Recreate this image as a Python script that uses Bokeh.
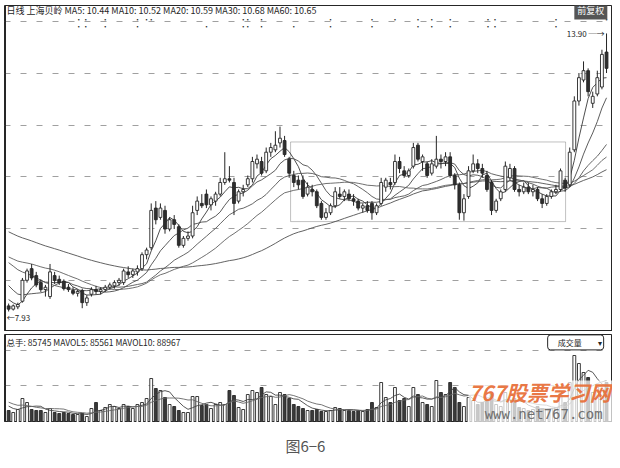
import numpy as np
import pandas as pd
from bokeh.plotting import figure
from bokeh.layouts import column
from bokeh.models import FixedTicker, Span, Label, BoxAnnotation, ColumnDataSource, Range1d
from bokeh.core.properties import value
from bokeh.embed import file_html
from bokeh.resources import INLINE

# ---------------- data ----------------
opens = [8.05, 7.98, 8.03, 8.15, 8.60, 8.85, 8.70, 8.55, 8.40, 8.25,
         8.70, 8.62, 8.58, 8.45, 8.38, 8.32, 8.38, 8.12, 8.30, 8.40,
         8.36, 8.40, 8.45, 8.48, 8.55, 8.55, 8.78, 8.72, 8.78, 8.85,
         9.15, 9.30, 10.15, 9.95, 10.10, 9.70, 9.90, 9.75, 9.35, 9.50,
         9.55, 10.10, 10.25, 10.45, 10.22, 10.30, 10.45, 10.70, 10.78, 10.70,
         10.30, 10.50, 10.65, 10.78, 11.10, 11.15, 10.95, 11.35, 11.40, 11.55,
         11.60, 11.20, 10.85, 10.75, 10.75, 10.45, 10.55, 10.50, 10.25, 9.95,
         10.05, 10.20, 10.45, 10.40, 10.45, 10.35, 10.30, 10.15, 10.20, 10.25,
         10.05, 10.25, 10.60, 10.70, 10.70, 11.15, 10.95, 10.85, 11.05, 11.50,
         11.15, 11.10, 10.90, 11.05, 11.20, 11.15, 11.25, 10.85, 10.65, 10.05,
         10.40, 10.95, 11.10, 11.00, 10.85, 10.70, 10.10, 10.35, 10.55, 10.80,
         11.00, 10.55, 10.50, 10.60, 10.50, 10.55, 10.35, 10.25, 10.40, 10.50,
         10.55, 10.75, 10.65, 11.40, 12.45, 12.90, 13.10, 12.40, 12.60, 12.75,
         13.50]
highs = [8.10, 8.08, 8.12, 8.65, 8.85, 8.95, 8.78, 8.62, 8.50, 8.95,
         8.78, 8.70, 8.62, 8.52, 8.45, 8.40, 8.42, 8.28, 8.45, 8.48,
         8.45, 8.50, 8.55, 8.60, 8.65, 8.85, 8.90, 8.85, 8.92, 9.20,
         9.30, 10.25, 10.30, 10.25, 10.20, 9.95, 10.00, 9.80, 9.55, 9.65,
         10.20, 10.40, 10.45, 10.55, 10.40, 10.50, 10.80, 11.35, 11.05, 10.80,
         10.55, 10.65, 10.85, 11.25, 11.30, 11.25, 11.45, 11.55, 11.80, 11.90,
         11.70, 11.25, 10.95, 10.85, 10.85, 10.70, 10.65, 10.55, 10.30, 10.15,
         10.25, 10.60, 10.60, 10.55, 10.55, 10.45, 10.35, 10.25, 10.30, 10.30,
         10.25, 10.80, 10.80, 10.80, 11.30, 11.25, 11.05, 11.00, 11.55, 11.55,
         11.30, 11.15, 11.20, 11.70, 11.30, 11.35, 11.35, 10.90, 10.70, 10.45,
         11.05, 11.30, 11.20, 11.10, 10.95, 10.75, 10.35, 10.55, 11.15, 11.10,
         11.05, 10.65, 10.70, 10.70, 10.65, 10.60, 10.45, 10.45, 10.55, 10.65,
         11.00, 10.80, 11.45, 12.55, 13.05, 13.30, 13.15, 12.65, 13.10, 13.55,
         13.90]
lows = [7.93, 7.95, 7.98, 8.12, 8.55, 8.60, 8.45, 8.35, 8.25, 8.20,
        8.52, 8.50, 8.38, 8.35, 8.28, 8.25, 8.00, 8.05, 8.25, 8.30,
        8.30, 8.35, 8.40, 8.42, 8.48, 8.50, 8.65, 8.65, 8.70, 8.80,
        9.05, 9.25, 9.80, 9.90, 9.60, 9.65, 9.70, 9.30, 9.30, 9.45,
        9.50, 10.00, 10.15, 10.15, 10.10, 10.20, 10.40, 10.65, 10.70, 10.00,
        10.25, 10.40, 10.60, 10.70, 11.00, 10.85, 10.90, 11.25, 11.35, 11.45,
        11.25, 10.80, 10.60, 10.55, 10.35, 10.40, 10.40, 10.15, 9.90, 9.90,
        10.00, 10.15, 10.35, 10.30, 10.30, 10.20, 10.10, 10.05, 10.05, 9.90,
        10.00, 10.20, 10.50, 10.55, 10.65, 10.90, 10.80, 10.80, 11.00, 11.15,
        10.95, 10.80, 10.85, 11.00, 11.00, 11.05, 10.80, 10.55, 9.90, 9.88,
        10.35, 10.90, 10.90, 10.80, 10.50, 10.00, 10.05, 10.30, 10.50, 10.75,
        10.50, 10.40, 10.45, 10.45, 10.40, 10.30, 10.15, 10.20, 10.35, 10.45,
        10.50, 10.50, 10.60, 11.35, 12.35, 12.85, 12.55, 12.30, 12.55, 12.70,
        13.05]
closes = [7.98, 8.05, 8.08, 8.60, 8.80, 8.65, 8.50, 8.40, 8.45, 8.78,
          8.60, 8.55, 8.42, 8.40, 8.32, 8.36, 8.12, 8.22, 8.40, 8.36,
          8.40, 8.45, 8.50, 8.55, 8.60, 8.80, 8.72, 8.80, 8.85, 9.15,
          9.25, 10.10, 9.90, 10.15, 9.70, 9.90, 9.80, 9.35, 9.50, 9.55,
          10.05, 10.30, 10.20, 10.22, 10.35, 10.45, 10.70, 10.78, 10.75, 10.25,
          10.50, 10.55, 10.78, 11.15, 11.20, 10.90, 11.35, 11.45, 11.50, 11.65,
          11.30, 10.90, 10.70, 10.65, 10.40, 10.60, 10.50, 10.20, 9.95, 10.05,
          10.20, 10.50, 10.40, 10.50, 10.35, 10.30, 10.15, 10.20, 10.10, 10.05,
          10.20, 10.70, 10.75, 10.65, 11.15, 11.00, 10.85, 10.95, 11.45, 11.20,
          11.25, 10.85, 11.10, 11.20, 11.15, 11.25, 10.85, 10.65, 10.05, 10.35,
          10.95, 11.10, 11.00, 10.90, 10.55, 10.10, 10.30, 10.50, 11.05, 11.00,
          10.55, 10.50, 10.60, 10.50, 10.55, 10.35, 10.25, 10.40, 10.50, 10.55,
          10.95, 10.58, 11.35, 12.45, 12.95, 13.10, 12.65, 12.55, 12.95, 13.45,
          13.15]
volumes = [30000, 25000, 32500, 60000, 50000, 32500, 30000, 30000, 25000, 35000,
           25000, 22500, 25000, 22500, 20000, 20000, 22500, 15000, 35000, 50000,
           30000, 37500, 45000, 40000, 35000, 45000, 40000, 35000, 45000, 50000,
           60000, 110000, 85000, 80000, 62500, 45000, 40000, 30000, 25000, 25000,
           65000, 65000, 42500, 45000, 35000, 45000, 50000, 45000, 80000, 67500,
           37500, 32500, 70000, 80000, 75000, 87500, 70000, 65000, 45000, 75000,
           70000, 60000, 45000, 40000, 35000, 30000, 30000, 32500, 27500, 27500,
           30000, 37500, 35000, 30000, 30000, 27500, 30000, 27500, 32500, 50000,
           37500, 100000, 62500, 50000, 87500, 55000, 60000, 40000, 87500, 70000,
           50000, 45000, 40000, 105000, 75000, 70000, 100000, 87500, 50000, 40000,
           62500, 55000, 45000, 50000, 55000, 70000, 45000, 40000, 75000, 55000,
           60000, 37500, 35000, 30000, 32500, 40000, 35000, 32500, 35000, 37500,
           70000, 50000, 100000, 167500, 147500, 125000, 112500, 75000, 87500, 80000,
           100000]
# closes / volumes before the first visible day (seed the moving averages)
pre_closes = [10.95, 10.88, 10.80, 10.85, 10.72, 10.65, 10.70, 10.58, 10.50, 10.55,
              10.42, 10.35, 10.40, 10.28, 10.20, 10.25, 10.12, 10.05, 10.10, 9.98,
              9.90, 9.95, 9.85, 9.78, 9.82, 9.70, 9.65, 9.72, 9.60, 9.55,
              9.50, 9.42, 9.38, 9.30, 9.35, 9.28, 9.40, 9.32, 9.25, 9.30,
              9.45, 9.55, 9.62, 9.58, 9.50, 9.45, 9.52, 9.40, 9.48, 9.42,
              9.20, 9.05, 8.90, 8.80, 8.62, 8.55, 8.40, 8.30, 8.20, 8.05]
pre_volumes = [60000, 70000, 65000, 55000, 62500, 50000, 55000, 45000, 40000, 35000]

ma_periods = [5, 10, 20, 30, 60]
grid_prices = [8.59, 9.71, 10.82, 11.93, 13.05, 14.16]
vol_grid = [92500, 180000]
upper_sig_idx = [16, 21, 28, 30, 31, 51, 52, 55, 70, 79, 84, 89, 92, 96, 105, 119, 130]
upper_sig_txt = ["••", "•", "•", "•", "•", "•", "•", "•", "•", "•", "•", "•", "•", "•", "••", "•", "•"]
lower_sig_idx = [16, 21, 28, 43, 51, 52, 55, 62, 70, 79, 89, 92, 96, 105, 119]
lower_sig_txt = ["••", "•", "•", "•", "•", "•", "•", "•", "•", "•", "•", "•", "•", "••", "•"]
box_left, box_right, box_low, box_high = 61.3, 121.1, 9.86, 11.57

header = "日线  上海贝岭 MA5: 10.44 MA10: 10.52 MA20: 10.59 MA30: 10.68 MA60: 10.65"
vol_header = "总手: 85745 MAVOL5: 85561 MAVOL10: 88967"

# ---------------- derived ----------------
n = len(closes)
idx = np.arange(n)
o = np.array(opens); c = np.array(closes); h = np.array(highs); l = np.array(lows)
up = c >= o
all_c = pd.Series(pre_closes + closes)
mas = {k: all_c.rolling(k, min_periods=1).mean().values[len(pre_closes):] for k in ma_periods}
all_v = pd.Series(pre_volumes + volumes)
mav5 = all_v.rolling(5, min_periods=1).mean().values[len(pre_volumes):]
mav10 = all_v.rolling(10, min_periods=1).mean().values[len(pre_volumes):]

INK = "#262626"
FONT = "Noto Sans CJK SC"
x_lo, x_hi = -0.9, 131.3
W = 612

src = ColumnDataSource(dict(x=idx, open=o, close=c, high=h, low=l,
                            top=np.maximum(o, c), bot=np.minimum(o, c),
                            fill=np.where(up, "white", "#2e2e2e"),
                            vol=np.array(volumes),
                            vfill=np.where(up, "white", "#3a3a3a")))

# ---------------- main price panel ----------------
p = figure(width=W, height=331, x_range=Range1d(x_lo, x_hi), y_range=Range1d(7.50, 14.50),
           output_backend="svg", toolbar_location=None,
           min_border_left=4, min_border_top=5, min_border_right=0, min_border_bottom=0,
           outline_line_color=INK, outline_line_width=1)
p.xaxis.visible = False
p.yaxis.visible = False
p.xgrid.visible = False
p.ygrid.ticker = FixedTicker(ticks=grid_prices)
p.ygrid.grid_line_color = "#a0a0a0"
p.ygrid.grid_line_dash = "6 10"
p.ygrid.grid_line_width = 1

ma_colors = ["#3a3a3a", "#4a4a4a", "#555555", "#606060", "#505050"]
for k, col in zip(ma_periods, ma_colors):
    p.line(idx, mas[k], line_color=col, line_width=0.9)

p.segment(x0="x", y0="low", x1="x", y1="high", source=src, line_color=INK, line_width=1)
p.vbar(x="x", width=0.62, top="top", bottom="bot", source=src,
       fill_color="fill", line_color=INK, line_width=0.9)

p.add_layout(BoxAnnotation(left=box_left, right=box_right, bottom=box_low, top=box_high,
                           fill_alpha=0, line_color="#333333", line_width=1))

p.add_layout(Span(location=x_lo, dimension="height", line_color=INK, line_width=3))
p.add_layout(Span(location=x_hi, dimension="height", line_color=INK, line_width=3))

# header signal dots
p.text(x=upper_sig_idx, y=[14.22] * len(upper_sig_idx), text=upper_sig_txt,
       text_font=value(FONT), text_font_size="7px", text_align="center",
       text_baseline="middle", text_color=INK)
p.text(x=lower_sig_idx, y=[14.07] * len(lower_sig_idx), text=lower_sig_txt,
       text_font=value(FONT), text_font_size="7px", text_align="center",
       text_baseline="middle", text_color=INK)

p.add_layout(Label(x=x_lo, y=14.40, text=header, text_font=FONT, text_font_size="9px",
                   text_color=INK, text_baseline="middle", x_offset=2))
p.add_layout(Label(x=123.0, y=14.50, text="前复权", text_font=FONT, text_font_size="9px",
                   text_color="white", text_baseline="top", background_fill_color="#555555",
                   padding=3, y_offset=5))

lo_i = int(np.argmin(l)); hi_i = int(np.argmax(h))
p.add_layout(Label(x=lo_i, y=l[lo_i], text="←7.93", text_font=FONT, text_font_size="8px",
                   text_color=INK, text_baseline="top", x_offset=-2, y_offset=-1))
p.add_layout(Label(x=hi_i, y=h[hi_i], text="13.90 ─→", text_font=FONT, text_font_size="8px",
                   text_color=INK, text_baseline="middle", text_align="right", x_offset=-2))

# ---------------- volume panel ----------------
pv = figure(width=W, height=91, x_range=p.x_range, y_range=Range1d(0, 220000),
            output_backend="svg", toolbar_location=None,
            min_border_left=4, min_border_top=3, min_border_right=0, min_border_bottom=0,
            outline_line_color=INK, outline_line_width=1)
pv.xaxis.visible = False
pv.yaxis.visible = False
pv.xgrid.visible = False
pv.ygrid.ticker = FixedTicker(ticks=vol_grid)
pv.ygrid.grid_line_color = "#a0a0a0"
pv.ygrid.grid_line_dash = "6 10"

pv.vbar(x="x", width=0.62, top="vol", bottom=0, source=src,
        fill_color="vfill", line_color=INK, line_width=0.9)
pv.line(idx, mav5, line_color="#444444", line_width=0.9)
pv.line(idx, mav10, line_color="#666666", line_width=0.9)

pv.add_layout(Span(location=x_lo, dimension="height", line_color=INK, line_width=3))
pv.add_layout(Span(location=x_hi, dimension="height", line_color=INK, line_width=3))

pv.add_layout(BoxAnnotation(left=100.0, right=x_hi, bottom=0, top=105000,
                            fill_color="white", fill_alpha=0.72, line_alpha=0))
pv.add_layout(Label(x=100.0, y=40000, text="767股票学习网", text_font=FONT,
                    text_font_size="21px", text_font_style="bold italic",
                    text_color="#e8703a", text_alpha=0.95))
pv.add_layout(Label(x=103.5, y=1000, text="www.net767.com", text_font="DejaVu Sans Mono",
                    text_font_size="14px", text_color="#707070"))

pv.add_layout(Label(x=x_lo, y=216000, text=vol_header, text_font=FONT, text_font_size="8.5px",
                    text_color=INK, text_baseline="top", x_offset=2))
pv.add_layout(Label(x=117.2, y=219000, text="　成交量　　▾", text_font=FONT,
                    text_font_size="8px", text_color=INK, text_baseline="top",
                    background_fill_color="white", border_line_color=INK,
                    border_line_width=1, padding=2, border_radius=3))

# ---------------- caption ----------------
pc = figure(width=W, height=36, x_range=Range1d(0, 1), y_range=Range1d(0, 1),
            output_backend="svg", toolbar_location=None, min_border=0,
            outline_line_color=None)
pc.axis.visible = False
pc.grid.visible = False
pc.add_layout(Label(x=0.495, y=0.36, text="图6−6", text_font=FONT, text_font_size="15px",
                    text_color="#555555", text_align="center", text_baseline="middle"))

layout = column(p, pv, pc, spacing=0)
open("out.html", "w").write(file_html(layout, INLINE))
